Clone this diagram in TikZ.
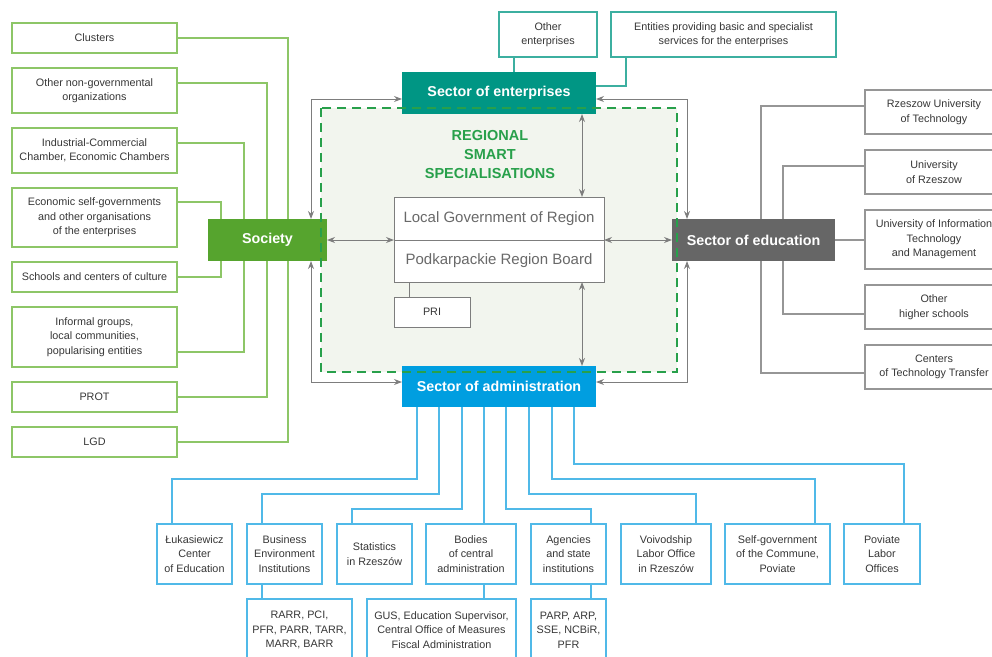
\documentclass[tikz,border=0pt]{standalone}
\usepackage{fontspec}
\setmainfont{Liberation Sans}
\usetikzlibrary{arrows.meta,calc}
\definecolor{lgreen}{RGB}{141,198,103}
\definecolor{socgreen}{RGB}{86,164,46}
\definecolor{entteal}{RGB}{0,150,132}
\definecolor{tealb}{RGB}{60,175,160}
\definecolor{edugray}{RGB}{102,102,102}
\definecolor{adminblue}{RGB}{0,158,224}
\definecolor{lblue}{RGB}{80,185,232}
\definecolor{boxgray}{RGB}{150,150,150}
\definecolor{arrgray}{RGB}{125,125,125}
\definecolor{dgreen}{RGB}{40,160,75}
\definecolor{dfill}{RGB}{242,245,238}
\definecolor{txtgray}{RGB}{55,55,55}
\definecolor{ctext}{RGB}{105,105,105}
\begin{document}
\begin{tikzpicture}[x=1pt,y=-1pt,
  box/.style={draw, line width=1.3pt, fill=white, inner sep=1pt, outer sep=0pt, align=center,
    font=\fontsize{10.8}{14.5}\selectfont, text=txtgray},
  lbox/.style={box, draw=lgreen},
  tbox/.style={box, draw=tealb},
  rbox/.style={box, draw=boxgray},
  bbox/.style={box, draw=lblue},
  sector/.style={draw=none, inner sep=0pt, outer sep=0pt, text=white, font=\fontsize{14.3}{16}\selectfont\bfseries},
  cbox/.style={draw=arrgray, line width=1pt, fill=white, inner sep=0pt, outer sep=0pt, text=ctext,
    font=\fontsize{15}{17}\selectfont, minimum width=210pt},
  gline/.style={draw=lgreen, line width=1.3pt},
  tline/.style={draw=tealb, line width=1.3pt},
  rline/.style={draw=boxgray, line width=1.3pt},
  bline/.style={draw=lblue, line width=1.3pt},
  arr/.style={draw=arrgray, line width=1pt, {Stealth[length=8pt,width=6pt]}-{Stealth[length=8pt,width=6pt]}},
  pline/.style={draw=arrgray, line width=1pt}
]
\useasboundingbox (0,0) rectangle (992,656);
\clip (0,0) rectangle (992,656);
\fill[dfill] (321,108) rectangle (677,372);

% left column
\node[lbox, minimum width=165pt, minimum height=30pt] (clusters) at (94.5,38) {Clusters};
\node[lbox, minimum width=165pt, minimum height=45pt] (nongov) at (94.5,90.5) {Other non-governmental\\organizations};
\node[lbox, minimum width=165pt, minimum height=45pt] (chamber) at (94.5,150.5) {Industrial-Commercial\\Chamber, Economic Chambers};
\node[lbox, minimum width=165pt, minimum height=59pt] (econ) at (94.5,217.5) {Economic self-governments\\and other organisations\\of the enterprises};
\node[lbox, minimum width=165pt, minimum height=30pt] (schools) at (94.5,277) {Schools and centers of culture};
\node[lbox, minimum width=165pt, minimum height=60pt] (informal) at (94.5,337) {Informal groups,\\local communities,\\popularising entities};
\node[lbox, minimum width=165pt, minimum height=30pt] (prot) at (94.5,397) {PROT};
\node[lbox, minimum width=165pt, minimum height=30pt] (lgd) at (94.5,442) {LGD};

% sectors
\node[sector, fill=socgreen, minimum width=119pt, minimum height=42pt] (soc) at (267.5,240) {Society};
\node[sector, fill=entteal, minimum width=194pt, minimum height=42pt] (ent) at (499,93) {Sector of enterprises};
\node[sector, fill=adminblue, minimum width=194pt, minimum height=41pt] (admin) at (499,386.5) {Sector of administration};
\node[sector, fill=edugray, minimum width=163pt, minimum height=42pt] (edu) at (753.5,240) {Sector of education};

% centre
\node[text=dgreen, align=center, font=\fontsize{14.5}{19}\selectfont\bfseries] (rss) at (490,155) {REGIONAL\\SMART\\SPECIALISATIONS};
\node[cbox, minimum height=43pt] (lg) at (499,218.5) {Local Government of Region};
\node[cbox, minimum height=42pt] (board) at (499,261) {Podkarpackie Region Board};
\node[box, draw=arrgray, line width=1pt, minimum width=76pt, minimum height=30pt] (pri) at (432,312) {PRI};

% top boxes
\node[tbox, minimum width=98pt, minimum height=45pt] (other) at (548,34.5) {Other\\enterprises};
\node[tbox, minimum width=225pt, minimum height=45pt] (ent2) at (723.5,34.5) {Entities providing basic and specialist\\services for the enterprises};

% right column
\node[rbox, minimum width=138pt, minimum height=44pt] (rut) at (934,112) {Rzeszow University\\of Technology};
\node[rbox, minimum width=138pt, minimum height=44pt] (ur) at (934,172) {University\\of Rzeszow};
\node[rbox, minimum width=138pt, minimum height=59pt] (uitm) at (934,239.5) {University of Information\\Technology\\and Management};
\node[rbox, minimum width=138pt, minimum height=44pt] (ohs) at (934,307) {Other\\higher schools};
\node[rbox, minimum width=138pt, minimum height=44pt] (ctt) at (934,367) {Centers\\of Technology Transfer};

% bottom row
\node[bbox, minimum width=75pt, minimum height=60pt] (luk) at (194.5,554) {Łukasiewicz\\Center\\of Education};
\node[bbox, minimum width=75pt, minimum height=60pt] (bei) at (284.5,554) {Business\\Environment\\Institutions};
\node[bbox, minimum width=75pt, minimum height=60pt] (stat) at (374.5,554) {Statistics\\in Rzeszów};
\node[bbox, minimum width=90pt, minimum height=60pt] (bodies) at (471,554) {Bodies\\of central\\administration};
\node[bbox, minimum width=75pt, minimum height=60pt] (agen) at (568.5,554) {Agencies\\and state\\institutions};
\node[bbox, minimum width=90pt, minimum height=60pt] (voiv) at (666,554) {Voivodship\\Labor Office\\in Rzeszów};
\node[bbox, minimum width=105pt, minimum height=60pt] (selfg) at (777.5,554) {Self-government\\of the Commune,\\Poviate};
\node[bbox, minimum width=76pt, minimum height=60pt] (pov) at (882,554) {Poviate\\Labor\\Offices};

% sub boxes
\node[bbox, minimum width=105pt, minimum height=62pt] (rarr) at (299.5,630) {RARR, PCI,\\PFR, PARR, TARR,\\MARR, BARR};
\node[bbox, minimum width=149pt, minimum height=62pt] (gus) at (441.5,630) {GUS, Education Supervisor,\\Central Office of Measures\\Fiscal Administration};
\node[bbox, minimum width=75pt, minimum height=62pt] (parp) at (568.5,630) {PARP, ARP,\\SSE, NCBiR,\\PFR};

% green connectors
\draw[gline] (clusters.east) -| ([xshift=20.5pt]soc.north);
\draw[gline] ([yshift=7.5pt]nongov.east) -| ([xshift=-0.5pt]soc.north);
\draw[gline] ([yshift=7.5pt]chamber.east) -| ([xshift=-23.5pt]soc.north);
\draw[gline] ([yshift=15.5pt]econ.east) -| ([xshift=-46.5pt]soc.north);
\draw[gline] (schools.east) -| ([xshift=-46.5pt]soc.south);
\draw[gline] ([yshift=-15pt]informal.east) -| ([xshift=-23.5pt]soc.south);
\draw[gline] (prot.east) -| ([xshift=-0.5pt]soc.south);
\draw[gline] (lgd.east) -| ([xshift=20.5pt]soc.south);

% teal connectors
\draw[tline] ([xshift=-34pt]other.south) -- ++(0,15);
\draw[tline] ([xshift=-97.5pt]ent2.south) |- ([yshift=7pt]ent.east);

% grey connectors to education
\draw[rline] ([yshift=6pt]rut.west) -| ([xshift=7.5pt]edu.north);
\draw[rline] ([yshift=6pt]ur.west) -| ([xshift=29.5pt]edu.north);
\draw[rline] (edu.east) -- (edu.east -| uitm.west);
\draw[rline] ([yshift=-7pt]ohs.west) -| ([xshift=29.5pt]edu.south);
\draw[rline] ([yshift=-6pt]ctt.west) -| ([xshift=7.5pt]edu.south);

% blue connectors
\draw[bline] ([xshift=-82pt]admin.south) -- ++(0,72) -| ([xshift=-22.5pt]luk.north);
\draw[bline] ([xshift=-60pt]admin.south) -- ++(0,87) -| ([xshift=-22.5pt]bei.north);
\draw[bline] ([xshift=-37pt]admin.south) -- ++(0,102) -| ([xshift=-22.5pt]stat.north);
\draw[bline] ([xshift=13pt]bodies.north) -- ++(0,-117);
\draw[bline] ([xshift=7pt]admin.south) -- ++(0,102) -| ([xshift=22.5pt]agen.north);
\draw[bline] ([xshift=30pt]admin.south) -- ++(0,87) -| ([xshift=30pt]voiv.north);
\draw[bline] ([xshift=53pt]admin.south) -- ++(0,72) -| ([xshift=37.5pt]selfg.north);
\draw[bline] ([xshift=75pt]admin.south) -- ++(0,57) -| ([xshift=22pt]pov.north);
\draw[bline] ([xshift=-22.5pt]bei.south) -- ++(0,15);
\draw[bline] ([xshift=13pt]bodies.south) -- ++(0,15);
\draw[bline] ([xshift=22.5pt]agen.south) -- ++(0,15);

% arrows
\draw[arr] (soc.east) -- (lg.south west);
\draw[arr] (lg.south east) -- (edu.west);
\draw[arr] ([xshift=83pt]ent.south) -- ([xshift=83pt]lg.north);
\draw[arr] ([xshift=83pt]board.south) -- ([xshift=83pt]admin.north);
\draw[arr] ([yshift=-6pt]ent.west) -| ([xshift=43.5pt]soc.north);
\draw[arr] ([yshift=-6pt]ent.east) -| ([xshift=-66.5pt]edu.north);
\draw[arr] ([xshift=43.5pt]soc.south) |- ([yshift=4.5pt]admin.west);
\draw[arr] ([xshift=-66.5pt]edu.south) |- ([yshift=4.5pt]admin.east);
\draw[pline] ([xshift=-90pt]board.south) -- ++(0,15);

% dashed frame
\draw[dgreen, line width=2pt, dash pattern=on 9pt off 6pt] (321,108) rectangle (677,372);
\end{tikzpicture}
\end{document}
